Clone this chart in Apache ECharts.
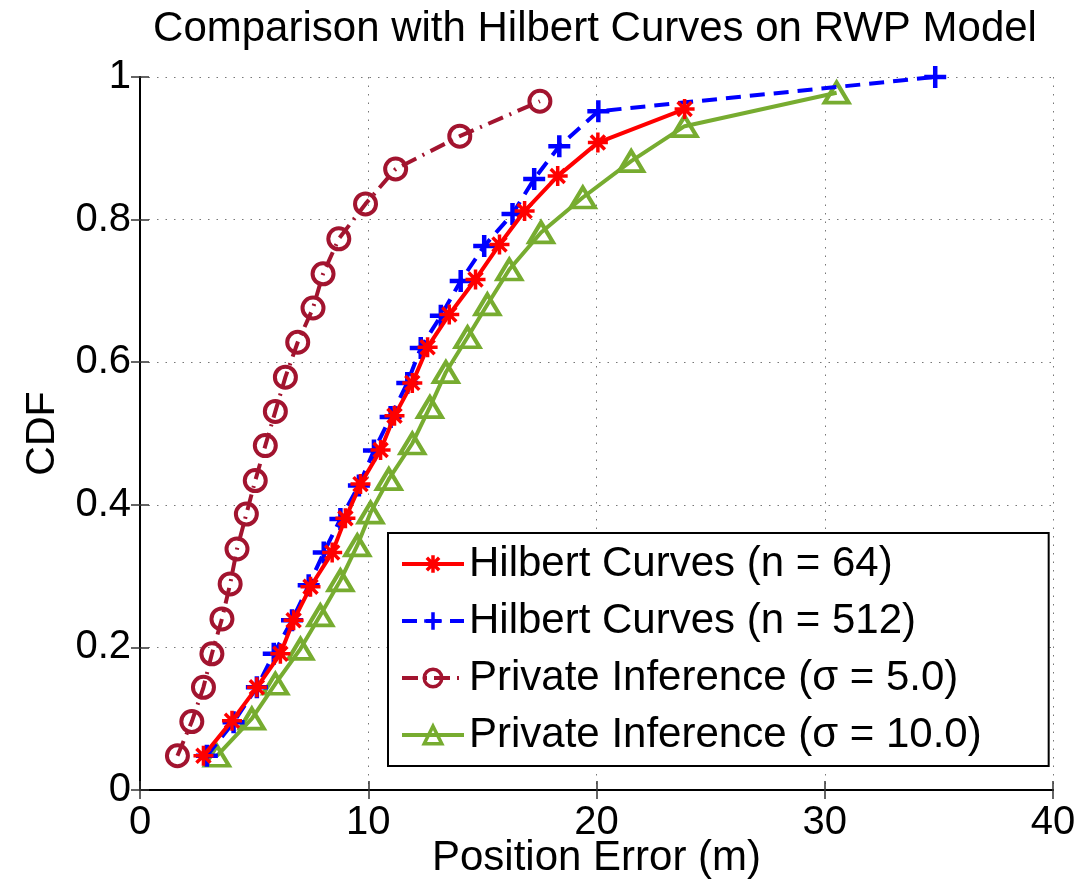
<!DOCTYPE html>
<html>
<head>
<meta charset="utf-8">
<script src="https://cdn.jsdelivr.net/npm/echarts@6/dist/echarts.min.js"></script>
<style>
  html, body { margin: 0; padding: 0; background: #fff; }
  #chart { width: 1083px; height: 882px; }
</style>
</head>
<body>
<div id="chart"></div>
<script>
// CDF points: x = position error (m), y = CDF
var hilbert64X = [2.78, 4.03, 5.12, 6.15, 6.73, 7.47, 8.42, 9.0, 9.66, 10.54, 11.15, 11.93, 12.6, 13.55, 14.7, 15.75, 16.85, 18.3, 20.06, 23.86];
var hilbert64Y = [0.048, 0.097, 0.144, 0.191, 0.238, 0.285, 0.333, 0.381, 0.429, 0.477, 0.525, 0.571, 0.621, 0.667, 0.716, 0.765, 0.812, 0.861, 0.908, 0.955];

var hilbert512X = [2.93, 4.1, 5.12, 5.86, 6.66, 7.39, 8.05, 8.78, 9.59, 10.25, 10.98, 11.71, 12.3, 13.18, 14.05, 15.08, 16.32, 17.27, 18.37, 20.08, 34.84];
var hilbert512Y = [0.048, 0.095, 0.144, 0.191, 0.238, 0.287, 0.333, 0.38, 0.427, 0.476, 0.523, 0.571, 0.62, 0.665, 0.714, 0.763, 0.808, 0.857, 0.903, 0.952, 1.0];

var private5X = [1.64, 2.27, 2.78, 3.15, 3.59, 3.95, 4.25, 4.66, 5.05, 5.49, 5.93, 6.37, 6.91, 7.58, 8.02, 8.71, 9.88, 11.2, 14.01, 17.52];
var private5Y = [0.048, 0.096, 0.144, 0.191, 0.24, 0.289, 0.338, 0.387, 0.434, 0.483, 0.531, 0.579, 0.628, 0.676, 0.724, 0.773, 0.822, 0.871, 0.917, 0.966];

var private10X = [3.37, 4.9, 5.93, 7.03, 7.9, 8.78, 9.52, 10.1, 10.9, 11.93, 12.7, 13.4, 14.35, 15.22, 16.18, 17.57, 19.4, 21.52, 23.86, 30.52];
var private10Y = [0.048, 0.1, 0.149, 0.198, 0.245, 0.294, 0.343, 0.389, 0.436, 0.486, 0.537, 0.586, 0.635, 0.681, 0.73, 0.782, 0.831, 0.882, 0.931, 0.978];

var seriesNames = ['Hilbert Curves (n = 64)', 'Hilbert Curves (n = 512)', 'Private Inference (\u03c3 = 5.0)', 'Private Inference (\u03c3 = 10.0)'];

function pairs(xs, ys) {
    return xs.map(function (x, i) { return [x, ys[i]]; });
}

var FONT = "'Liberation Sans', Arial, Helvetica, sans-serif";
var starPath = 'path://M10,0L10,20M0,10L20,10M3,3L17,17M3,17L17,3';
var plusPath = 'path://M10,0L10,20M0,10L20,10';

var chart = echarts.init(document.getElementById('chart'), null, {renderer: 'canvas'});

// top / right axes only close the box and carry the inner ticks
var boxAxis = {
    axisLine: {show: true, lineStyle: {color: '#000', width: 2}},
    axisTick: {show: true, inside: true, length: 9, lineStyle: {color: '#333', width: 1.5}},
    axisLabel: {show: false},
    splitLine: {show: false}
};

var option = {
    backgroundColor: '#fff',
    animation: false,
    title: {
        text: 'Comparison with Hilbert Curves on RWP Model',
        left: 590,
        textAlign: 'center',
        top: 3,
        textStyle: {fontFamily: FONT, fontSize: 42, fontWeight: 'normal', color: '#000'}
    },
    grid: {left: 140, top: 77, right: 30, bottom: 92, outerBoundsMode: 'none'},
    legend: {
        orient: 'vertical',
        left: 388,
        top: 533,
        padding: [10, 67, 10, 12],
        itemGap: 15,
        itemWidth: 62,
        itemHeight: 22,
        backgroundColor: '#fff',
        borderColor: '#000',
        borderWidth: 2,
        borderRadius: 0,
        lineStyle: {width: 4},
        itemStyle: {borderWidth: 3.5},
        textStyle: {fontFamily: FONT, fontSize: 42, color: '#000'},
        data: seriesNames
    },
    xAxis: [
        {
            type: 'value',
            min: 0, max: 40, interval: 10,
            name: 'Position Error (m)',
            nameLocation: 'middle',
            nameGap: 47,
            nameMoveOverlap: false,
            nameTextStyle: {fontFamily: FONT, fontSize: 42, color: '#000'},
            axisLine: {show: true, onZero: false, lineStyle: {color: '#000', width: 2}},
            axisTick: {show: true, inside: true, length: 9, lineStyle: {color: '#333', width: 1.5}},
            axisLabel: {fontFamily: FONT, fontSize: 40, color: '#000', margin: 13},
            splitLine: {show: true, lineStyle: {color: '#777', width: 1, type: [1.5, 7]}}
        },
        Object.assign({type: 'value', position: 'top', min: 0, max: 40, interval: 10}, boxAxis)
    ],
    yAxis: [
        {
            type: 'value',
            min: 0, max: 1, interval: 0.2,
            name: 'CDF',
            nameLocation: 'middle',
            nameGap: 77,
            nameMoveOverlap: false,
            nameTextStyle: {fontFamily: FONT, fontSize: 41, color: '#000'},
            axisLine: {show: true, onZero: false, lineStyle: {color: '#000', width: 2}},
            axisTick: {show: true, inside: true, length: 9, lineStyle: {color: '#333', width: 1.5}},
            axisLabel: {fontFamily: FONT, fontSize: 40, color: '#000', margin: 9},
            splitLine: {show: true, lineStyle: {color: '#777', width: 1, type: [1.5, 7]}}
        },
        Object.assign({type: 'value', position: 'right', min: 0, max: 1, interval: 0.2}, boxAxis)
    ],
    series: [
        {
            name: seriesNames[0],
            type: 'line',
            data: pairs(hilbert64X, hilbert64Y),
            clip: false,
            symbol: starPath,
            symbolSize: 20,
            lineStyle: {color: '#ff0000', width: 4},
            itemStyle: {color: '#ff0000', borderColor: '#ff0000', borderWidth: 3.5},
            z: 4
        },
        {
            name: seriesNames[1],
            type: 'line',
            data: pairs(hilbert512X, hilbert512Y),
            clip: false,
            symbol: plusPath,
            symbolSize: 22,
            lineStyle: {color: '#0000ff', width: 4, type: [15, 9]},
            itemStyle: {color: '#0000ff', borderColor: '#0000ff', borderWidth: 4.5},
            z: 3
        },
        {
            name: seriesNames[2],
            type: 'line',
            data: pairs(private5X, private5Y),
            clip: false,
            symbol: 'circle',
            symbolSize: 21,
            lineStyle: {color: '#a2142f', width: 4, type: [16, 7, 2, 7]},
            itemStyle: {color: 'rgba(255,255,255,0)', borderColor: '#a2142f', borderWidth: 4},
            z: 2
        },
        {
            name: seriesNames[3],
            type: 'line',
            data: pairs(private10X, private10Y),
            clip: false,
            symbol: 'triangle',
            symbolSize: [24, 20],
            lineStyle: {color: '#77ac30', width: 4},
            itemStyle: {color: 'rgba(255,255,255,0)', borderColor: '#77ac30', borderWidth: 4},
            z: 1
        }
    ]
};

chart.setOption(option);
</script>
</body>
</html>
